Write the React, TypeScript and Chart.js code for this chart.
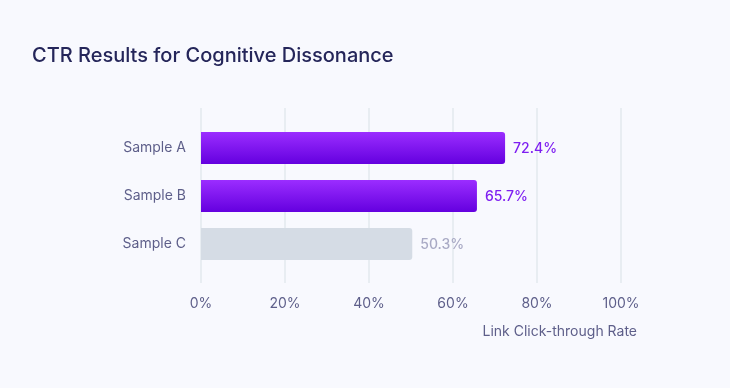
import React, { useEffect, useRef } from "react";
import { Chart, registerables } from "chart.js";

Chart.register(...registerables);

const TITLE = "CTR Results for Cognitive Dissonance";
const AXIS_TITLE = "Link Click-through Rate";
const categories = ["Sample A", "Sample B", "Sample C"];
const values = [72.4, 65.7, 50.3];
const highlighted = [true, true, false];
const xTicks = [0, 20, 40, 60, 80, 100];

const FONT = "Inter, 'Noto Sans', sans-serif";
const BG = "#f8f9fe";
const GRID = "#e8edf2";
const TICK_COLOR = "#5e5f8a";
const PURPLE_TOP = "#9b2dff";
const PURPLE_BOTTOM = "#6400df";
const GREY_BAR = "#d5dce5";
const PURPLE_LABEL = "#7e1ff1";
const GREY_LABEL = "#a9aac5";

export default function App() {
  const ref = useRef<HTMLCanvasElement | null>(null);

  useEffect(() => {
    if (!ref.current) return;

    const bgPlugin = {
      id: "bg",
      beforeDraw(chart: any) {
        const { ctx, width, height } = chart;
        ctx.save();
        ctx.fillStyle = BG;
        ctx.fillRect(0, 0, width, height);
        ctx.restore();
      },
    };

    const gridPlugin = {
      id: "customGrid",
      beforeDatasetsDraw(chart: any) {
        const { ctx, chartArea } = chart;
        const x = chart.scales.x;
        ctx.save();
        ctx.strokeStyle = GRID;
        ctx.lineWidth = 2;
        xTicks.forEach((t) => {
          const px = Math.round(x.getPixelForValue(t));
          ctx.beginPath();
          ctx.moveTo(px, chartArea.top - 16);
          ctx.lineTo(px, chartArea.bottom + 15);
          ctx.stroke();
        });
        ctx.restore();
      },
    };

    const labelPlugin = {
      id: "valueLabels",
      afterDatasetsDraw(chart: any) {
        const { ctx } = chart;
        const meta = chart.getDatasetMeta(0);
        ctx.save();
        ctx.font = `500 14px ${FONT}`;
        ctx.textAlign = "left";
        ctx.textBaseline = "middle";
        meta.data.forEach((el: any, i: number) => {
          ctx.fillStyle = highlighted[i] ? PURPLE_LABEL : GREY_LABEL;
          ctx.fillText(values[i].toFixed(1) + "%", el.x + 8, el.y + 1);
        });
        const x = chart.scales.x;
        ctx.font = `400 14px ${FONT}`;
        ctx.fillStyle = TICK_COLOR;
        ctx.textAlign = "right";
        ctx.fillText(AXIS_TITLE, x.getPixelForValue(100) + 16, chart.chartArea.bottom + 64);
        ctx.restore();
      },
    };

    const chart = new Chart(ref.current, {
      type: "bar",
      data: {
        labels: categories,
        datasets: [
          {
            data: values,
            backgroundColor: (c: any) => {
              const i = c.dataIndex;
              if (!highlighted[i]) return GREY_BAR;
              const chartObj = c.chart;
              const ys = chartObj.scales && chartObj.scales.y;
              if (!chartObj.chartArea || !ys) return PURPLE_TOP;
              const cy = ys.getPixelForValue(i);
              const g = chartObj.ctx.createLinearGradient(0, cy - 16, 0, cy + 16);
              g.addColorStop(0, PURPLE_TOP);
              g.addColorStop(1, PURPLE_BOTTOM);
              return g;
            },
            borderRadius: 3,
            borderSkipped: "start",
            categoryPercentage: 1,
            barPercentage: 0.667,
          },
        ],
      },
      options: {
        indexAxis: "y",
        animation: false,
        responsive: false,
        maintainAspectRatio: false,
        layout: { padding: { left: 32, right: 109, top: 0, bottom: 76 } },
        plugins: {
          legend: { display: false },
          tooltip: { enabled: false },
          title: {
            display: true,
            text: TITLE,
            align: "start",
            color: "#25265a",
            font: { family: FONT, size: 20, weight: "500", lineHeight: 1.2 },
            padding: { top: 44, bottom: 56 },
          },
        },
        scales: {
          x: {
            min: 0,
            max: 100,
            afterBuildTicks: (s: any) => {
              s.ticks = xTicks.map((v) => ({ value: v }));
            },
            afterFit: (s: any) => {
              s.height = 44;
            },
            grid: { display: false, drawTicks: true, tickLength: 15 },
            border: { display: false },
            ticks: {
              color: TICK_COLOR,
              padding: 12,
              font: { family: FONT, size: 14 },
              callback: (v: any) => v + "%",
            },
          },
          y: {
            afterFit: (s: any) => {
              s.width = 169;
            },
            grid: { display: false, drawTicks: false },
            border: { display: false },
            ticks: {
              color: TICK_COLOR,
              padding: 15,
              font: { family: FONT, size: 14 },
            },
          },
        },
      },
      plugins: [bgPlugin, gridPlugin, labelPlugin],
    } as any);

    return () => chart.destroy();
  }, []);

  return (
    <div style={{ position: "fixed", left: 0, top: 0, width: 730, height: 388, background: BG }}>
      <canvas ref={ref} width={730} height={388} style={{ width: 730, height: 388, display: "block" }} />
    </div>
  );
}
